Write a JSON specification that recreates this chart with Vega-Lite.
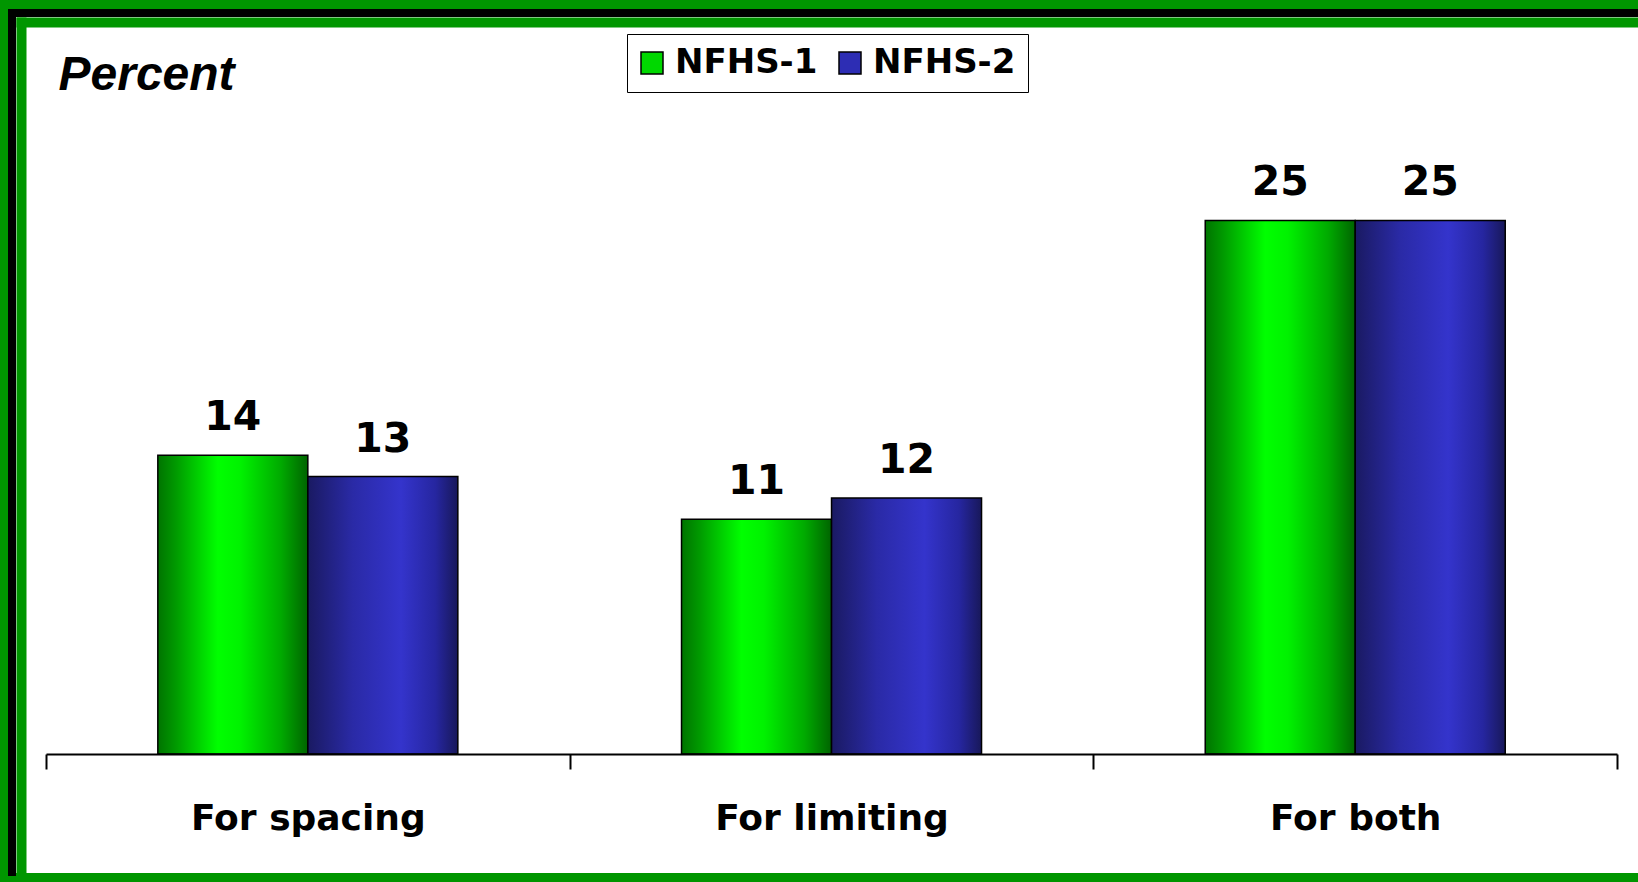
{
  "$schema": "https://vega.github.io/schema/vega-lite/v6.json",
  "width": 1626,
  "height": 860,
  "autosize": {"type": "none"},
  "padding": {"left": 12, "top": 13, "right": 0, "bottom": 9},
  "background": "#009600",
  "view": {"fill": "white", "stroke": "black", "strokeWidth": 8, "strokeCap": "square", "strokeDash": [1626, 2487, 870]},
  "data": {
    "values": [
      {"use": "For spacing", "survey": "NFHS-1", "percent": 14},
      {"use": "For spacing", "survey": "NFHS-2", "percent": 13},
      {"use": "For limiting", "survey": "NFHS-1", "percent": 11},
      {"use": "For limiting", "survey": "NFHS-2", "percent": 12},
      {"use": "For both", "survey": "NFHS-1", "percent": 25},
      {"use": "For both", "survey": "NFHS-2", "percent": 25}
    ]
  },
  "encoding": {
    "x": {
      "field": "use", "type": "nominal", "sort": null,
      "scale": {"type": "band", "paddingInner": 0, "paddingOuter": 0.05242, "align": 0.619},
      "axis": {
        "orient": "bottom", "offset": -119, "title": null, "grid": false, "zindex": 1,
        "domainColor": "black", "domainWidth": 2, "domainDash": [0, 34, 1571, 100],
        "tickBand": "extent", "tickColor": "black", "tickWidth": 2, "tickSize": 15,
        "labelFont": "DejaVu Sans", "labelFontWeight": "bold", "labelFontSize": 36, "labelColor": "black",
        "labelBaseline": "alphabetic", "labelPadding": 60, "labelAngle": 0, "labelLimit": 600
      }
    },
    "xOffset": {
      "field": "survey", "type": "nominal",
      "scale": {"domain": ["NFHS-1", "NFHS-2"], "paddingInner": 0, "paddingOuter": 0.7456}
    },
    "y": {
      "field": "percent", "type": "quantitative",
      "scale": {"domain": [-5.575, 34.717], "nice": false, "zero": false},
      "axis": {
        "orient": "left", "offset": -9, "zindex": 1,
        "domainColor": "#009600", "domainWidth": 10, "domainDash": [856, 100],
        "ticks": false, "labels": false,
        "grid": true, "values": [34.295], "gridColor": "#009600", "gridWidth": 10, "gridOpacity": 1, "gridDash": [0, 4, 3000, 0],
        "title": "Percent", "titleAngle": 0, "titleX": 37, "titleY": 76, "titleAlign": "left", "titleBaseline": "alphabetic",
        "titleFont": "Liberation Sans", "titleFontSize": 48, "titleFontStyle": "italic", "titleFontWeight": "bold", "titleColor": "black"
      }
    }
  },
  "layer": [
    {
      "mark": {"type": "bar", "stroke": "black", "strokeWidth": 1.5},
      "encoding": {
        "color": {
          "field": "survey", "type": "nominal",
          "scale": {"domain": ["NFHS-1", "NFHS-2"], "range": ["#00d800", "#2d2db4"]},
          "condition": [
            {"test": "datum.survey === 'NFHS-1'", "value": {"gradient": "linear", "x1": 0, "y1": 0, "x2": 1, "y2": 0, "stops": [
              {"offset": 0, "color": "#007400"}, {"offset": 0.12, "color": "#009a00"}, {"offset": 0.4, "color": "#00ff00"},
              {"offset": 0.55, "color": "#00f200"}, {"offset": 0.82, "color": "#00aa00"}, {"offset": 1, "color": "#006400"}]}},
            {"test": "datum.survey === 'NFHS-2'", "value": {"gradient": "linear", "x1": 0, "y1": 0, "x2": 1, "y2": 0, "stops": [
              {"offset": 0, "color": "#1a1a62"}, {"offset": 0.3, "color": "#2a2aa6"}, {"offset": 0.62, "color": "#3434cc"},
              {"offset": 0.85, "color": "#2626a0"}, {"offset": 1, "color": "#18185a"}]}}
          ],
          "legend": {
            "orient": "none", "legendX": 615, "legendY": 21, "direction": "horizontal", "title": null,
            "fillColor": "white", "strokeColor": "black", "padding": 12,
            "symbolType": "square", "symbolSize": 484, "symbolOffset": -4, "symbolStrokeColor": "black", "symbolStrokeWidth": 1.5, "symbolOpacity": 1,
            "labelFont": "DejaVu Sans", "labelFontWeight": "bold", "labelFontSize": 34, "labelColor": "black",
            "labelOffset": 6, "columnPadding": 18, "labelLimit": 500
          }
        }
      }
    },
    {
      "mark": {"type": "text", "font": "DejaVu Sans", "fontWeight": "bold", "fontSize": 41, "baseline": "alphabetic", "dy": -25, "color": "black"},
      "encoding": {"text": {"field": "percent", "type": "quantitative"}}
    }
  ]
}
